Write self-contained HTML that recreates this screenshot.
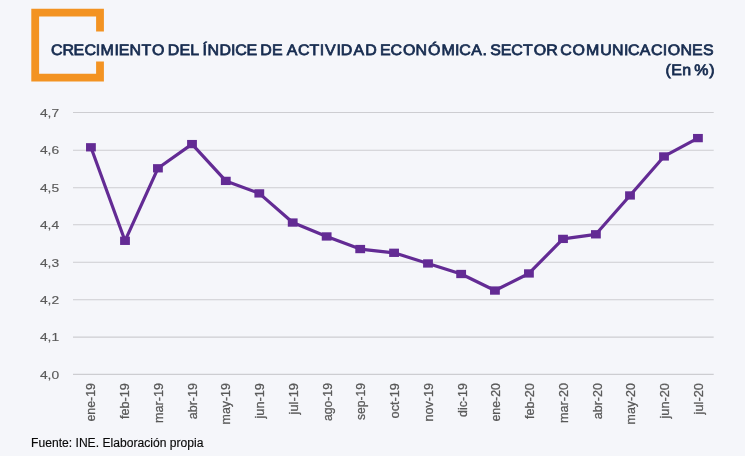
<!DOCTYPE html>
<html lang="es"><head><meta charset="utf-8"><title>Crecimiento del índice de actividad económica</title>
<style>
html,body{margin:0;padding:0;}
body{width:745px;height:456px;overflow:hidden;background:#f5f6fa;font-family:"Liberation Sans",sans-serif;}
svg{display:block;filter:blur(0.4px)}
.t{font-family:"Liberation Sans",sans-serif;fill:#172c50;stroke:#172c50;stroke-width:0.75px;font-size:15.2px;text-rendering:geometricPrecision}
.y{font-family:"Liberation Sans",sans-serif;fill:#595959;stroke:#595959;stroke-width:0.15px;font-size:11.8px}
.x{font-family:"Liberation Sans",sans-serif;fill:#595959;stroke:#595959;stroke-width:0.25px;font-size:12px}
.f{font-family:"Liberation Sans",sans-serif;fill:#0a0a0a;stroke:#0a0a0a;stroke-width:0.15px;font-size:12px}
</style></head><body>
<svg width="745" height="456" viewBox="0 0 745 456">
<rect width="745" height="456" fill="#f5f6fa"/>
<path d="M103.9 31.6 V8.7 H31.3 V81.6 H103.9 V61.4 H96.1 V73.8 H39.1 V16.5 H96.1 V31.6 Z" fill="#f39322"/>
<text class="t" transform="translate(0 55) scale(1.05 1)" x="48.61 59.45 70.06 80.37 91.17 95.67 109.08 113.01 123.32 134.72 144.71 154.27 159.82 170.92 181.12 188.94 192.75 197.65 208.97 220.08 223.94 234.82 243.37 247.92 259.11 268.12 273.12 283.84 294.74 304.41 309.41 320.56 324.59 336.60 347.78 356.81 361.85 371.89 383.71 395.84 407.57 420.43 433.29 437.37 448.86 459.60 465.22 466.84 476.97 486.94 498.03 508.35 520.19 528.89 533.58 545.14 558.17 571.58 582.98 594.25 598.13 609.38 620.08 631.17 635.97 648.20 658.94 669.55" y="0">CRECIMIENTO DEL ÍNDICE DE ACTIVIDAD ECONÓMICA. SECTOR COMUNICACIONES</text>
<text class="t" transform="translate(0 74.8) scale(1.05 1)" x="633.85 639.30 649.86 657.57 661.29 675.37" y="0">(En %)</text>
<line x1="73" x2="713.7" y1="112.50" y2="112.50" stroke="#cdcdd1" stroke-width="1.1"/>
<line x1="73" x2="713.7" y1="150.20" y2="150.20" stroke="#cdcdd1" stroke-width="1.1"/>
<line x1="73" x2="713.7" y1="187.70" y2="187.70" stroke="#cdcdd1" stroke-width="1.1"/>
<line x1="73" x2="713.7" y1="224.80" y2="224.80" stroke="#cdcdd1" stroke-width="1.1"/>
<line x1="73" x2="713.7" y1="262.30" y2="262.30" stroke="#cdcdd1" stroke-width="1.1"/>
<line x1="73" x2="713.7" y1="299.80" y2="299.80" stroke="#cdcdd1" stroke-width="1.1"/>
<line x1="73" x2="713.7" y1="337.10" y2="337.10" stroke="#cdcdd1" stroke-width="1.1"/>
<line x1="73" x2="713.7" y1="374.40" y2="374.40" stroke="#cdcdd1" stroke-width="1.1"/>
<text class="y" x="39.9" y="116.7" textLength="19.2" lengthAdjust="spacingAndGlyphs">4,7</text>
<text class="y" x="39.9" y="154.4" textLength="19.2" lengthAdjust="spacingAndGlyphs">4,6</text>
<text class="y" x="39.9" y="191.9" textLength="19.2" lengthAdjust="spacingAndGlyphs">4,5</text>
<text class="y" x="39.9" y="229.0" textLength="19.2" lengthAdjust="spacingAndGlyphs">4,4</text>
<text class="y" x="39.9" y="266.5" textLength="19.2" lengthAdjust="spacingAndGlyphs">4,3</text>
<text class="y" x="39.9" y="304.0" textLength="19.2" lengthAdjust="spacingAndGlyphs">4,2</text>
<text class="y" x="39.9" y="341.3" textLength="19.2" lengthAdjust="spacingAndGlyphs">4,1</text>
<text class="y" x="39.9" y="378.6" textLength="19.2" lengthAdjust="spacingAndGlyphs">4,0</text>
<polyline fill="none" stroke="#632b94" stroke-width="3.2" stroke-linejoin="round" points="90.93,147.3 125.0,240.8 157.93,168.3 192.0,144.1 225.8,180.9 259.3,193.4 292.7,222.55 326.65,236.45 360.2,249.05 394.07,252.8 428.0,263.45 461.15,274.0 494.93,290.55 528.93,273.45 563.0,238.9 595.9,234.3 630.0,195.45 664.0,156.45 697.93,138.1"/>
<rect x="86.03" y="143.15" width="9.8" height="8.3" fill="#632b94"/>
<rect x="120.10" y="236.65" width="9.8" height="8.3" fill="#632b94"/>
<rect x="153.03" y="164.15" width="9.8" height="8.3" fill="#632b94"/>
<rect x="187.10" y="139.95" width="9.8" height="8.3" fill="#632b94"/>
<rect x="220.90" y="176.75" width="9.8" height="8.3" fill="#632b94"/>
<rect x="254.40" y="189.25" width="9.8" height="8.3" fill="#632b94"/>
<rect x="287.80" y="218.40" width="9.8" height="8.3" fill="#632b94"/>
<rect x="321.75" y="232.30" width="9.8" height="8.3" fill="#632b94"/>
<rect x="355.30" y="244.90" width="9.8" height="8.3" fill="#632b94"/>
<rect x="389.17" y="248.65" width="9.8" height="8.3" fill="#632b94"/>
<rect x="423.10" y="259.30" width="9.8" height="8.3" fill="#632b94"/>
<rect x="456.25" y="269.85" width="9.8" height="8.3" fill="#632b94"/>
<rect x="490.03" y="286.40" width="9.8" height="8.3" fill="#632b94"/>
<rect x="524.03" y="269.30" width="9.8" height="8.3" fill="#632b94"/>
<rect x="558.10" y="234.75" width="9.8" height="8.3" fill="#632b94"/>
<rect x="591.00" y="230.15" width="9.8" height="8.3" fill="#632b94"/>
<rect x="625.10" y="191.30" width="9.8" height="8.3" fill="#632b94"/>
<rect x="659.10" y="152.30" width="9.8" height="8.3" fill="#632b94"/>
<rect x="693.03" y="133.95" width="9.8" height="8.3" fill="#632b94"/>
<text class="x" text-anchor="end" textLength="38.5" lengthAdjust="spacingAndGlyphs" transform="translate(95.30 383.1) rotate(-90) scale(1 1.14)">ene-19</text>
<text class="x" text-anchor="end" textLength="35.9" lengthAdjust="spacingAndGlyphs" transform="translate(129.05 383.1) rotate(-90) scale(1 1.14)">feb-19</text>
<text class="x" text-anchor="end" textLength="39.9" lengthAdjust="spacingAndGlyphs" transform="translate(162.80 383.1) rotate(-90) scale(1 1.14)">mar-19</text>
<text class="x" text-anchor="end" textLength="36.2" lengthAdjust="spacingAndGlyphs" transform="translate(196.55 383.1) rotate(-90) scale(1 1.14)">abr-19</text>
<text class="x" text-anchor="end" textLength="41.3" lengthAdjust="spacingAndGlyphs" transform="translate(230.30 383.1) rotate(-90) scale(1 1.14)">may-19</text>
<text class="x" text-anchor="end" textLength="35.4" lengthAdjust="spacingAndGlyphs" transform="translate(264.05 383.1) rotate(-90) scale(1 1.14)">jun-19</text>
<text class="x" text-anchor="end" textLength="31.3" lengthAdjust="spacingAndGlyphs" transform="translate(297.80 383.1) rotate(-90) scale(1 1.14)">jul-19</text>
<text class="x" text-anchor="end" textLength="37.9" lengthAdjust="spacingAndGlyphs" transform="translate(331.55 383.1) rotate(-90) scale(1 1.14)">ago-19</text>
<text class="x" text-anchor="end" textLength="37.0" lengthAdjust="spacingAndGlyphs" transform="translate(365.30 383.1) rotate(-90) scale(1 1.14)">sep-19</text>
<text class="x" text-anchor="end" textLength="35.3" lengthAdjust="spacingAndGlyphs" transform="translate(399.05 383.1) rotate(-90) scale(1 1.14)">oct-19</text>
<text class="x" text-anchor="end" textLength="38.3" lengthAdjust="spacingAndGlyphs" transform="translate(432.80 383.1) rotate(-90) scale(1 1.14)">nov-19</text>
<text class="x" text-anchor="end" textLength="33.8" lengthAdjust="spacingAndGlyphs" transform="translate(466.55 383.1) rotate(-90) scale(1 1.14)">dic-19</text>
<text class="x" text-anchor="end" textLength="38.5" lengthAdjust="spacingAndGlyphs" transform="translate(500.30 383.1) rotate(-90) scale(1 1.14)">ene-20</text>
<text class="x" text-anchor="end" textLength="35.9" lengthAdjust="spacingAndGlyphs" transform="translate(534.05 383.1) rotate(-90) scale(1 1.14)">feb-20</text>
<text class="x" text-anchor="end" textLength="39.9" lengthAdjust="spacingAndGlyphs" transform="translate(567.80 383.1) rotate(-90) scale(1 1.14)">mar-20</text>
<text class="x" text-anchor="end" textLength="36.2" lengthAdjust="spacingAndGlyphs" transform="translate(601.55 383.1) rotate(-90) scale(1 1.14)">abr-20</text>
<text class="x" text-anchor="end" textLength="41.3" lengthAdjust="spacingAndGlyphs" transform="translate(635.30 383.1) rotate(-90) scale(1 1.14)">may-20</text>
<text class="x" text-anchor="end" textLength="35.4" lengthAdjust="spacingAndGlyphs" transform="translate(669.05 383.1) rotate(-90) scale(1 1.14)">jun-20</text>
<text class="x" text-anchor="end" textLength="31.3" lengthAdjust="spacingAndGlyphs" transform="translate(702.80 383.1) rotate(-90) scale(1 1.14)">jul-20</text>
<text class="f" x="31.1" y="446.5" textLength="172.3" lengthAdjust="spacingAndGlyphs">Fuente: INE. Elaboración propia</text>
</svg></body></html>
